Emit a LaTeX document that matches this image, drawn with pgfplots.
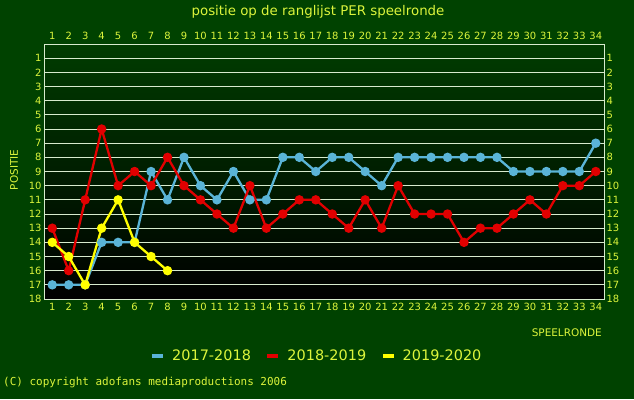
\documentclass[border=0pt]{standalone}
\usepackage{pgfplots}
\usepackage{pgfplotstable}
\pgfplotsset{compat=1.18}
\usepackage{fontspec}
\setmainfont{DejaVu Sans}
\newfontfamily\monofont{DejaVu Sans Mono}
\definecolor{bggreen}{RGB}{0,66,0}
\definecolor{plottop}{RGB}{0,60,0}
\definecolor{txt}{RGB}{220,245,60}
\definecolor{gridc}{RGB}{215,235,205}
\definecolor{sblue}{RGB}{90,180,215}
\definecolor{sred}{RGB}{225,0,0}
\definecolor{syel}{RGB}{255,255,0}

\pgfplotstableread{
r p
1 17
2 17
3 17
4 14
5 14
6 14
7 9
8 11
9 8
10 10
11 11
12 9
13 11
14 11
15 8
16 8
17 9
18 8
19 8
20 9
21 10
22 8
23 8
24 8
25 8
26 8
27 8
28 8
29 9
30 9
31 9
32 9
33 9
34 7
}\seasonA

\pgfplotstableread{
r p
1 13
2 16
3 11
4 6
5 10
6 9
7 10
8 8
9 10
10 11
11 12
12 13
13 10
14 13
15 12
16 11
17 11
18 12
19 13
20 11
21 13
22 10
23 12
24 12
25 12
26 14
27 13
28 13
29 12
30 11
31 12
32 10
33 10
34 9
}\seasonB

\pgfplotstableread{
r p
1 14
2 15
3 17
4 13
5 11
6 14
7 15
8 16
}\seasonC

\begin{document}
\begin{tikzpicture}[x=1bp,y=1bp]
\fill[bggreen] (0,0) rectangle (634,399);
\pgfplotsset{common/.style={
  at={(44bp,100bp)}, anchor=south west, scale only axis,
  width=560bp, height=255bp,
  xmin=0.5, xmax=34.5, ymin=0, ymax=18, y dir=reverse,
  xtick={1,...,34}, ytick={1,...,18},
  major tick length=0pt,
  tick label style={font=\fontsize{10}{11}\selectfont, text=txt},
  /pgf/number format/assume math mode=true,
}}
\begin{axis}[common,
  axis background/.style={top color=plottop, bottom color=black},
  axis line style={gridc, line width=0.9bp},
  ymajorgrids, grid style={gridc, line width=0.9bp},
  xticklabel style={yshift=-1bp},
  yticklabel style={xshift=1bp},
  legend style={at={(0.489,-0.2235)}, anchor=center, draw=none, fill=none,
    legend columns=3, font=\fontsize{14.5}{16}\selectfont, text=txt,
    /tikz/every even column/.append style={column sep=14.5bp}},
  legend image code/.code={\path[draw=none, fill=none] (0bp,0bp) -- (18bp,0bp); \fill[#1, draw=none, mark=none] (0bp,-2bp) rectangle (11bp,2bp);},
]
\addplot[sblue, line width=2.3bp, mark=*, mark size=3.5bp] table[x=r,y=p] {\seasonA};
\addlegendentry{2017-2018}
\addplot[sred, line width=2.3bp, mark=*, mark size=3.5bp] table[x=r,y=p] {\seasonB};
\addlegendentry{2018-2019}
\addplot[syel, line width=2.3bp, mark=*, mark size=3.5bp] table[x=r,y=p] {\seasonC};
\addlegendentry{2019-2020}
\end{axis}
\begin{axis}[common, hide x axis=false, axis line style={draw=none},
  xticklabel pos=top, yticklabel pos=right,
  xticklabel style={yshift=1bp},
  yticklabel style={xshift=-1bp}]
\addplot[draw=none] coordinates {(1,1)};
\end{axis}
\node[text=txt, font=\fontsize{13.4}{15}\selectfont] at (318,387) {positie op de ranglijst PER speelronde};
\node[text=txt, font=\fontsize{10.5}{12}\selectfont, anchor=east, inner sep=0] at (602,66) {SPEELRONDE};
\node[text=txt, font=\fontsize{10.5}{12}\selectfont, rotate=90] at (14,229) {POSITIE};
\node[text=txt, font=\monofont\fontsize{11}{12}\selectfont, anchor=west, inner sep=0] at (3,16) {(C) copyright adofans mediaproductions 2006};
\end{tikzpicture}
\end{document}
